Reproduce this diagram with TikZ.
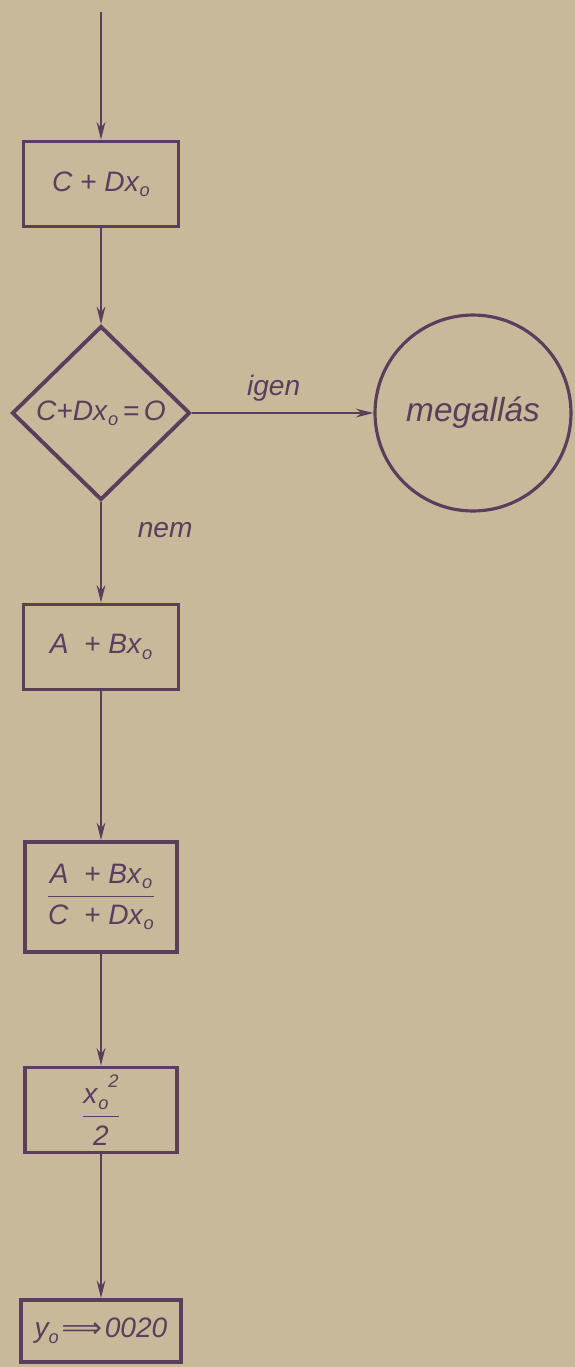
\documentclass[tikz,border=0pt]{standalone}
\usepackage{fontspec}
\usepackage{graphicx}
\usepackage{amsmath}
\setmainfont{Liberation Sans}
\newfontfamily\symfont{DejaVu Sans}
\usetikzlibrary{shapes.geometric,arrows.meta}
\definecolor{paper}{HTML}{C8B99B}
\definecolor{ink}{HTML}{5B3D5C}
\newcommand{\xo}{x\kern0.03em\raisebox{-0.35ex}{\scalebox{0.65}{o}}}
\begin{document}
\begin{tikzpicture}[x=0.02cm,y=-0.02cm,
  txt/.style={text=ink, font=\fontsize{16}{19}\selectfont\itshape},
  procbox/.style={txt, draw=ink, line width=2.2pt, minimum width=3.1cm, minimum height=1.7cm, inner sep=0pt},
  decision/.style={txt, diamond, aspect=1, draw=ink, line width=2.2pt, minimum width=3.56cm, minimum height=3.48cm, inner sep=0pt},
  stopcircle/.style={txt, circle, draw=ink, line width=1.8pt, minimum size=3.92cm, inner sep=0pt, font=\fontsize{19}{22}\selectfont\itshape},
  conn/.style={draw=ink, line width=1.1pt, -{Stealth[length=10pt,width=5pt]}},
  lbl/.style={txt}
]
\fill[paper] (0,0) rectangle (575,1367);
\useasboundingbox (0,0) rectangle (575,1367);

\coordinate (start) at (101,12);
\node[procbox] (b1) at (101,184) {C + D\xo};
\node[decision] (d) at (101,413) {C+D\xo\,=\,O};
\node[stopcircle] (c) at (473,413) {megallás};
\node[procbox] (b2) at (101,647) {A \ + B\xo};
\node[procbox, minimum width=3.04cm, minimum height=2.2cm] (b3) at (101,897)
  {\color{ink}$\dfrac{\text{\itshape A \ + B\xo}}{\text{\itshape C \ + D\xo}}$};
\node[procbox, minimum width=3.04cm] (b4) at (101,1110)
  {$\dfrac{\text{\itshape \xo\raisebox{1.1ex}{\scalebox{0.65}{2}}}}{\text{\itshape 2}}$};
\node[procbox, minimum width=3.2cm, minimum height=1.24cm] (b5) at (101,1331)
  {y\raisebox{-0.35ex}{\scalebox{0.65}{o}}\kern0.1em{\symfont\upshape ⟹}\kern0.1em 0020};

\draw[conn] (start) -- (b1.north);
\draw[conn] (b1.south) -- (d.north);
\draw[conn] (d.east) -- node[lbl, above=3pt, pos=0.45] {igen} (c.west);
\draw[conn] (d.south) -- node[lbl, pos=0.28, anchor=west, xshift=0.6cm] {nem} (b2.north);
\draw[conn] (b2.south) -- (b3.north);
\draw[conn] (b3.south) -- (b4.north);
\draw[conn] (b4.south) -- (b5.north);
\end{tikzpicture}
\end{document}
